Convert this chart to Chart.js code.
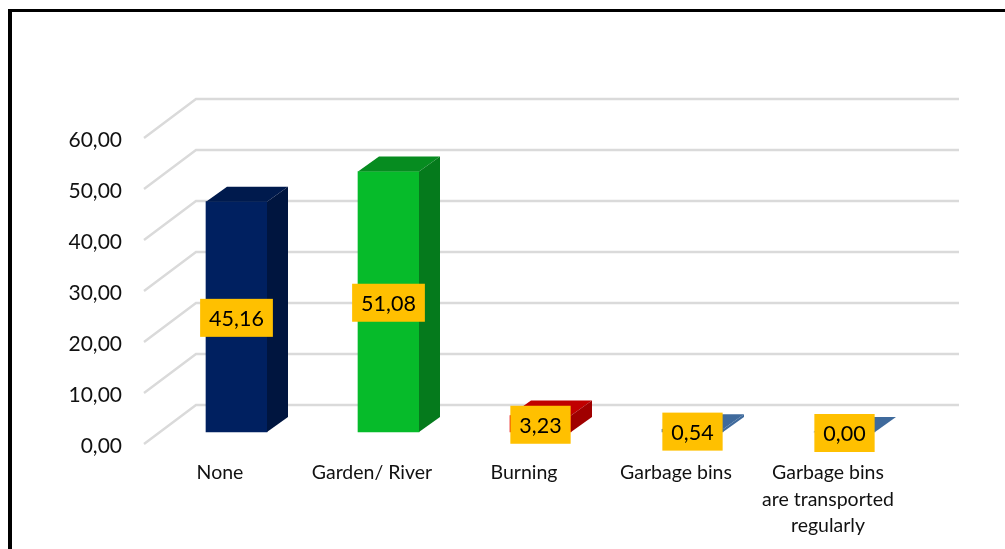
<!DOCTYPE html>
<html>
<head>
<meta charset="utf-8">
<style>
  html, body { margin: 0; padding: 0; background: #fff; overflow: hidden; }
  #frame { position: absolute; left: 8px; top: 9px; right: 0; bottom: 0; border-left: 4px solid #000; border-top: 3px solid #000; }
  canvas { position: absolute; left: 0; top: 0; }
</style>
<script src="https://cdn.jsdelivr.net/npm/chart.js@4"></script>
</head>
<body>
<div id="frame"></div>
<canvas id="wasteChart" width="1005" height="549"></canvas>
<script>
const categories = ['None', 'Garden/ River', 'Burning', 'Garbage bins', ['Garbage bins', 'are transported', 'regularly']];
const values = [45.16, 51.08, 3.23, 0.54, 0.00];
const valueLabels = ['45,16', '51,08', '3,23', '0,54', '0,00'];
const frontColors = ['#002060', '#06BB2A', '#E60000', '#3F6A9C', '#3F6A9C'];
const topColors = ['#001A4D', '#068C20', '#C00000', '#3F6A9C', '#3F6A9C'];
const sideColors = ['#00153F', '#057A1C', '#A00000', '#3F6A9C', '#3F6A9C'];

// depth of the fake 3D: where the bars stand and how far back they go
const gridShift = -2; // tick labels sit a little under their gridlines
const floorX = 16.5, floorY = -14;
const barDepthX = 21, barDepthY = -15;
const wallX = 52, wallY = -39;

const fontName = 'Lato, "Open Sans", sans-serif';

const fake3d = {
    id: 'fake3d',
    beforeDatasetsDraw(chart) {
        const ctx = chart.ctx;
        const y = chart.scales.y;
        const left = chart.chartArea.left;
        ctx.save();
        ctx.strokeStyle = '#DADADA';
        ctx.lineWidth = 2.4;
        y.ticks.forEach(tick => {
            const py = y.getPixelForValue(tick.value) + gridShift;
            ctx.beginPath();
            ctx.moveTo(left, py);
            ctx.lineTo(left + wallX, py + wallY);
            ctx.lineTo(959, py + wallY);
            ctx.stroke();
        });
        ctx.restore();
        // bars stand on the floor, not on the front edge
        ctx.save();
        ctx.translate(floorX, floorY);
    },
    afterDatasetsDraw(chart) {
        const ctx = chart.ctx;
        const bars = chart.getDatasetMeta(0).data;
        bars.forEach((bar, i) => {
            const l = bar.x - bar.width / 2, r = bar.x + bar.width / 2;
            ctx.fillStyle = topColors[i];
            ctx.beginPath();
            ctx.moveTo(l, bar.y);
            ctx.lineTo(l + barDepthX, bar.y + barDepthY);
            ctx.lineTo(r + barDepthX, bar.y + barDepthY);
            ctx.lineTo(r, bar.y);
            ctx.closePath();
            ctx.fill();
            ctx.fillStyle = sideColors[i];
            ctx.beginPath();
            ctx.moveTo(r, bar.y);
            ctx.lineTo(r + barDepthX, bar.y + barDepthY);
            ctx.lineTo(r + barDepthX, bar.base + barDepthY);
            ctx.lineTo(r, bar.base);
            ctx.closePath();
            ctx.fill();
        });
        // value boxes sit on the middle of the front face
        ctx.font = '21.5px ' + fontName;
        ctx.textAlign = 'center';
        ctx.textBaseline = 'middle';
        bars.forEach((bar, i) => {
            const cy = (bar.y + bar.base) / 2 + 1;
            const w = ctx.measureText(valueLabels[i]).width + 18;
            ctx.fillStyle = '#FFC000';
            ctx.fillRect(bar.x - w / 2, cy - 19, w, 38);
            ctx.fillStyle = '#000';
            ctx.fillText(valueLabels[i], bar.x, cy + 1);
        });
        ctx.restore();
    }
};

new Chart(document.getElementById('wasteChart'), {
    type: 'bar',
    data: {
        labels: categories,
        datasets: [{
            data: values,
            backgroundColor: frontColors,
            barThickness: 61,
            clip: false
        }]
    },
    options: {
        responsive: false,
        animation: false,
        layout: { padding: { left: 0, top: 140, right: 101, bottom: 0 } },
        plugins: { legend: { display: false }, tooltip: { enabled: false } },
        scales: {
            x: {
                grid: { display: false },
                border: { display: false },
                afterFit(scale) { scale.height = 103; },
                ticks: {
                    padding: 6,
                    maxRotation: 0,
                    autoSkip: false,
                    color: '#111',
                    font: { family: fontName, size: 19.5, lineHeight: 1.35 }
                }
            },
            y: {
                min: 0,
                max: 60,
                grid: { display: false, drawTicks: false },
                border: { display: false },
                afterFit(scale) { scale.width = 144; },
                ticks: {
                    stepSize: 10,
                    padding: 22,
                    color: '#111',
                    font: { family: fontName, size: 21 },
                    callback: v => v.toFixed(2).replace('.', ',')
                }
            }
        }
    },
    plugins: [fake3d]
});
</script>
</body>
</html>
